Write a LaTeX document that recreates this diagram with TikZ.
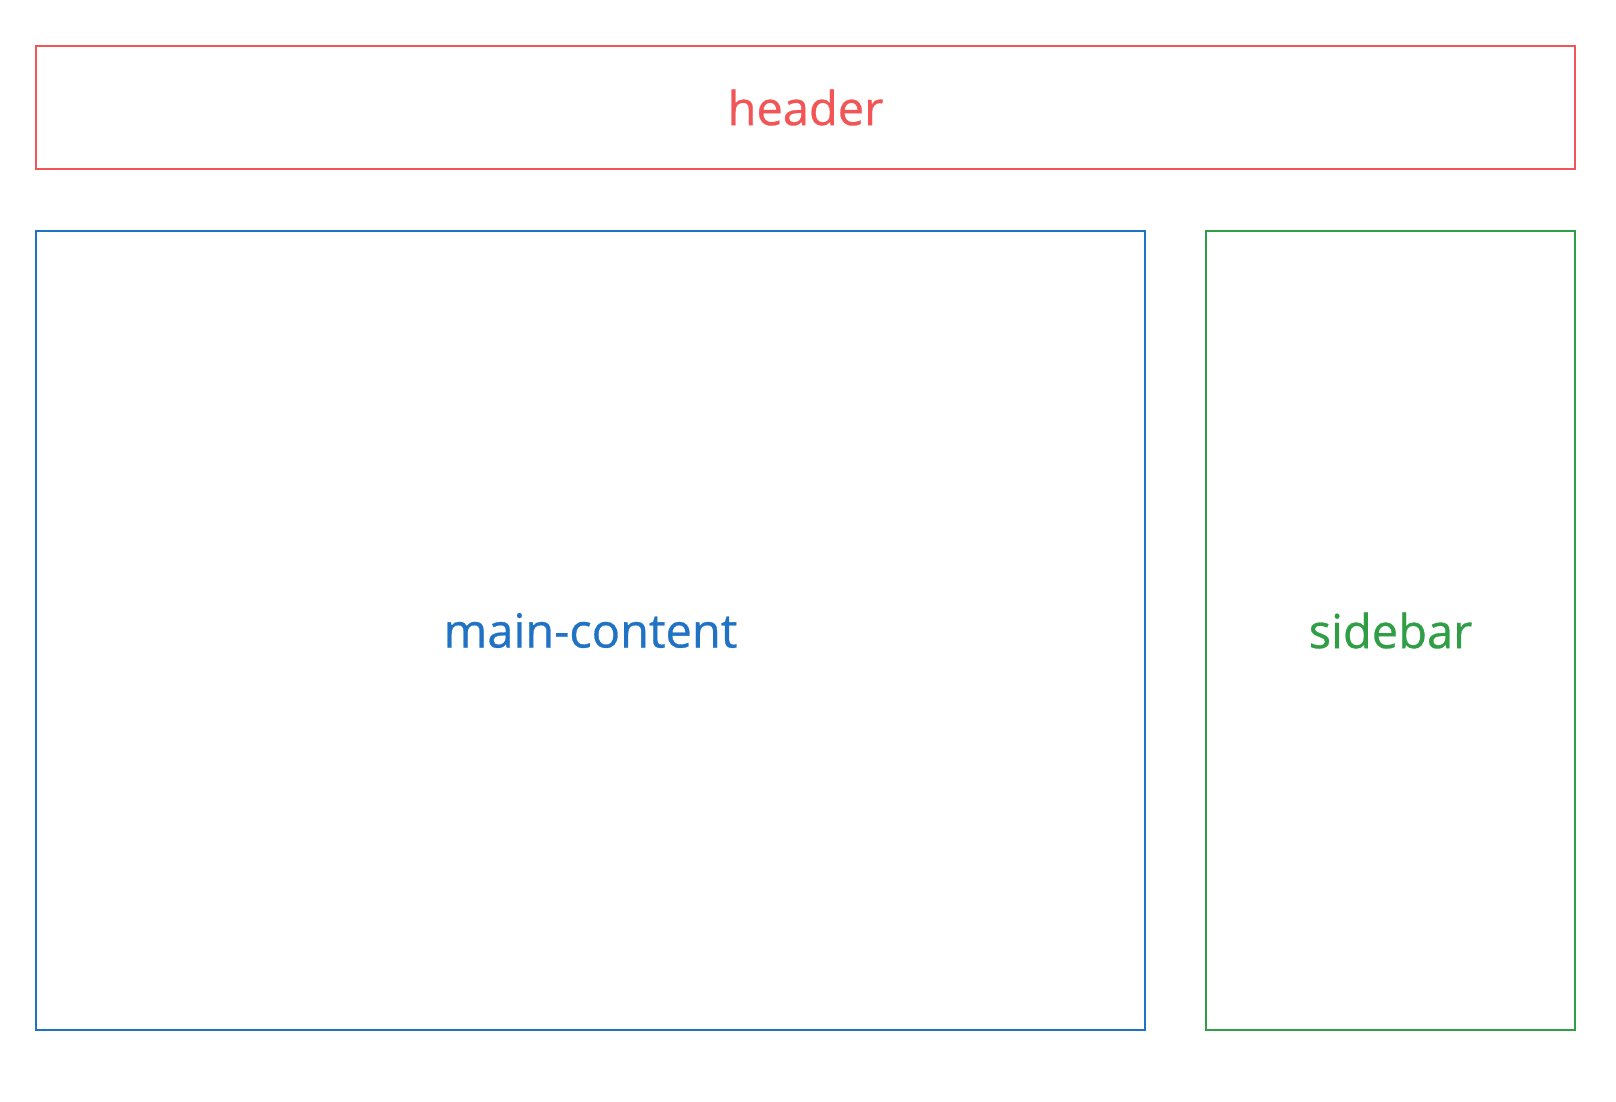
\documentclass[tikz,border=0pt]{standalone}
\usepackage{fontspec}
\setmainfont{Open Sans}[FakeBold=0.6]
\usetikzlibrary{positioning}

\definecolor{headred}{HTML}{F25555}
\definecolor{mainblue}{HTML}{1F72C4}
\definecolor{sidegreen}{HTML}{2F9E44}

\begin{document}
\begin{tikzpicture}[
        x=0.5pt, y=-0.5pt,
        box/.style={draw, line width=1.4pt, inner sep=0pt, font=\fontsize{23.5}{28}\selectfont},
        area/.style={box, minimum height=399.5pt}
    ]
    \useasboundingbox (0,0) rectangle (1616,1102);

    \node[box, headred, minimum width=769.5pt, minimum height=61.5pt] (header) at (805.5,107.5) {header};

    \node[area, mainblue, minimum width=554.5pt, below right=29.6pt and 0pt of header.south west] (main) {main-content};

    \node[area, sidegreen, minimum width=184.5pt, right=29.1pt of main] (sidebar) {sidebar};
\end{tikzpicture}
\end{document}
